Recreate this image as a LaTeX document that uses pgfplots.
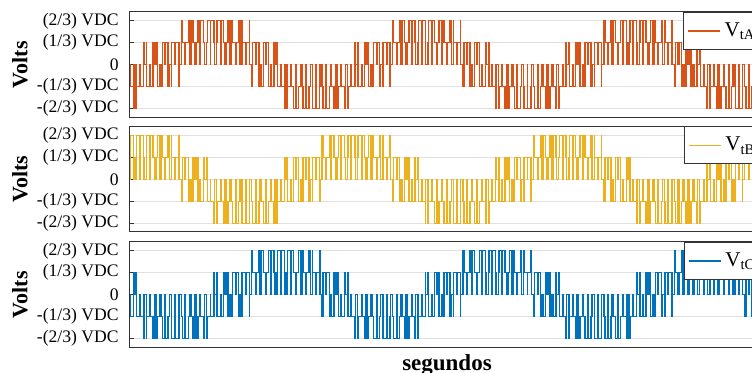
\documentclass[border=0pt]{standalone}
\usepackage{pgfplots}
\pgfplotsset{compat=1.18}
\usepackage{pgfplotstable}
\usepackage{fontspec}
\setmainfont{Liberation Serif}
\definecolor{cA}{HTML}{D95319}
\definecolor{cB}{HTML}{EDB120}
\definecolor{cC}{HTML}{0072BD}
\pgfplotstableread{
t a b c
0 0 0 0
0.6 -1 2 -1
6.5 -2 1 1
7.9 0 0 0
12.1 -2 1 1
13.5 -1 2 -1
19.4 0 0 0
20.5 -1 2 -1
26.8 1 1 -2
27.7 0 0 0
32.3 1 1 -2
33.2 -1 2 -1
39.5 0 0 0
40.9 -1 2 -1
45.5 1 1 -2
48.6 0 0 0
51.4 1 1 -2
54.5 -1 2 -1
59.1 0 0 0
61.6 -1 2 -1
64.1 1 1 -2
69.3 0 0 0
70.7 1 1 -2
75.9 -1 2 -1
78.4 0 0 0
82.6 -1 2 -1
82.9 1 1 -2
89.5 0 0 0
90.5 1 1 -2
97.1 -1 2 -1
97.4 0 0 0
101.8 2 -1 -1
103.9 1 1 -2
109.3 0 0 0
110.7 1 1 -2
116.1 2 -1 -1
118.2 0 0 0
121 2 -1 -1
125.2 1 1 -2
128.8 0 0 0
131.2 1 1 -2
134.8 2 -1 -1
139 0 0 0
140.6 2 -1 -1
146.5 1 1 -2
147.9 0 0 0
152.1 1 1 -2
153.5 2 -1 -1
159.4 0 0 0
160.5 2 -1 -1
166.8 1 -2 1
167.7 0 0 0
172.3 1 -2 1
173.2 2 -1 -1
179.5 0 0 0
180.9 2 -1 -1
185.5 1 -2 1
188.6 0 0 0
191.4 1 -2 1
194.5 2 -1 -1
199.1 0 0 0
201.6 2 -1 -1
204.1 1 -2 1
209.3 0 0 0
210.7 1 -2 1
215.9 2 -1 -1
218.4 0 0 0
222.6 2 -1 -1
222.9 1 -2 1
229.5 0 0 0
230.5 1 -2 1
237.1 2 -1 -1
237.4 0 0 0
241.8 -1 -1 2
243.9 1 -2 1
249.3 0 0 0
250.7 1 -2 1
256.1 -1 -1 2
258.2 0 0 0
261 -1 -1 2
265.2 1 -2 1
268.8 0 0 0
271.2 1 -2 1
274.8 -1 -1 2
279 0 0 0
280.6 -1 -1 2
286.5 1 -2 1
287.9 0 0 0
292.1 1 -2 1
293.5 -1 -1 2
299.4 0 0 0
300.5 -1 -1 2
306.8 -2 1 1
307.7 0 0 0
312.3 -2 1 1
313.2 -1 -1 2
319.5 0 0 0
320.9 -1 -1 2
325.5 -2 1 1
328.6 0 0 0
331.4 -2 1 1
334.5 -1 -1 2
339.1 0 0 0
341.6 -1 -1 2
344.1 -2 1 1
349.3 0 0 0
350.7 -2 1 1
355.9 -1 -1 2
358.4 0 0 0
362.6 -1 -1 2
362.9 -2 1 1
369.5 0 0 0
370.5 -2 1 1
377.1 -1 -1 2
377.4 0 0 0
381.8 -1 2 -1
383.9 -2 1 1
389.3 0 0 0
390.7 -2 1 1
396.1 -1 2 -1
398.2 0 0 0
401 -1 2 -1
405.2 -2 1 1
408.8 0 0 0
411.2 -2 1 1
414.8 -1 2 -1
419 0 0 0
420.6 -1 2 -1
426.5 -2 1 1
427.9 0 0 0
432.1 -2 1 1
433.5 -1 2 -1
439.4 0 0 0
440.5 -1 2 -1
446.8 1 1 -2
447.7 0 0 0
452.3 1 1 -2
453.2 -1 2 -1
459.5 0 0 0
460.9 -1 2 -1
465.5 1 1 -2
468.6 0 0 0
471.4 1 1 -2
474.5 -1 2 -1
479.1 0 0 0
481.6 -1 2 -1
484.1 1 1 -2
489.3 0 0 0
490.7 1 1 -2
495.9 -1 2 -1
498.4 0 0 0
502.6 -1 2 -1
502.9 1 1 -2
509.5 0 0 0
510.5 1 1 -2
517.1 -1 2 -1
517.4 0 0 0
521.8 2 -1 -1
523.9 1 1 -2
529.3 0 0 0
530.7 1 1 -2
536.1 2 -1 -1
538.2 0 0 0
541 2 -1 -1
545.2 1 1 -2
548.8 0 0 0
551.2 1 1 -2
554.8 2 -1 -1
559 0 0 0
560.6 2 -1 -1
566.5 1 1 -2
567.9 0 0 0
572.1 1 1 -2
573.5 2 -1 -1
579.4 0 0 0
580.5 2 -1 -1
586.8 1 -2 1
587.7 0 0 0
592.3 1 -2 1
593.2 2 -1 -1
599.5 0 0 0
600.9 2 -1 -1
605.5 1 -2 1
608.6 0 0 0
611.4 1 -2 1
614.5 2 -1 -1
619.1 0 0 0
621.6 2 -1 -1
624.1 1 -2 1
629.3 0 0 0
630.7 1 -2 1
635.9 2 -1 -1
638.4 0 0 0
642.6 2 -1 -1
642.9 1 -2 1
649.5 0 0 0
650.5 1 -2 1
657.1 2 -1 -1
657.4 0 0 0
661.8 -1 -1 2
663.9 1 -2 1
669.3 0 0 0
670.7 1 -2 1
676.1 -1 -1 2
678.2 0 0 0
681 -1 -1 2
685.2 1 -2 1
688.8 0 0 0
691.2 1 -2 1
694.8 -1 -1 2
699 0 0 0
700.6 -1 -1 2
706.5 1 -2 1
707.9 0 0 0
712.1 1 -2 1
713.5 -1 -1 2
719.4 0 0 0
720.5 -1 -1 2
726.8 -2 1 1
727.7 0 0 0
732.3 -2 1 1
733.2 -1 -1 2
739.5 0 0 0
740.9 -1 -1 2
745.5 -2 1 1
748.6 0 0 0
751.4 -2 1 1
754.5 -1 -1 2
759.1 0 0 0
761.6 -1 -1 2
764.1 -2 1 1
769.3 0 0 0
770.7 -2 1 1
775.9 -1 -1 2
778.4 0 0 0
782.6 -1 -1 2
782.9 -2 1 1
789.5 0 0 0
790.5 -2 1 1
797.1 -1 -1 2
797.4 0 0 0
801.8 -1 2 -1
803.9 -2 1 1
809.3 0 0 0
810.7 -2 1 1
816.1 -1 2 -1
818.2 0 0 0
821 -1 2 -1
825.2 -2 1 1
828.8 0 0 0
831.2 -2 1 1
834.8 -1 2 -1
839 0 0 0
840.6 -1 2 -1
846.5 -2 1 1
847.9 0 0 0
852.1 -2 1 1
853.5 -1 2 -1
859.4 0 0 0
860.5 -1 2 -1
866.8 1 1 -2
867.7 0 0 0
872.3 1 1 -2
873.2 -1 2 -1
879.5 0 0 0
880.9 -1 2 -1
885.5 1 1 -2
888.6 0 0 0
891.4 1 1 -2
894.5 -1 2 -1
899.1 0 0 0
901.6 -1 2 -1
904.1 1 1 -2
909.3 0 0 0
910.7 1 1 -2
915.9 -1 2 -1
918.4 0 0 0
922.6 -1 2 -1
922.9 1 1 -2
929.5 0 0 0
930.5 1 1 -2
937.1 -1 2 -1
937.4 0 0 0
941.8 2 -1 -1
943.9 1 1 -2
949.3 0 0 0
950.7 1 1 -2
956.1 2 -1 -1
958.2 0 0 0
961 2 -1 -1
965.2 1 1 -2
968.8 0 0 0
971.2 1 1 -2
974.8 2 -1 -1
979 0 0 0
980.6 2 -1 -1
986.5 1 1 -2
987.9 0 0 0
992.1 1 1 -2
993.5 2 -1 -1
999.4 0 0 0
1000.5 2 -1 -1
1006.8 1 -2 1
1007.7 0 0 0
1012.3 1 -2 1
1013.2 2 -1 -1
1019.5 0 0 0
1020.9 2 -1 -1
1025.5 1 -2 1
1028.6 0 0 0
1031.4 1 -2 1
1034.5 2 -1 -1
1039.1 0 0 0
1041.6 2 -1 -1
1044.1 1 -2 1
1049.3 0 0 0
1050.7 1 -2 1
1055.9 2 -1 -1
1058.4 0 0 0
1062.6 2 -1 -1
1062.9 1 -2 1
1069.5 0 0 0
1070.5 1 -2 1
1077.1 2 -1 -1
1077.4 0 0 0
1081.8 -1 -1 2
1083.9 1 -2 1
1089.3 0 0 0
1090.7 1 -2 1
1096.1 -1 -1 2
1098.2 0 0 0
1101 -1 -1 2
1105.2 1 -2 1
1108.8 0 0 0
1111.2 1 -2 1
1114.8 -1 -1 2
1119 0 0 0
1120.6 -1 -1 2
1126.5 1 -2 1
1127.9 0 0 0
1132.1 1 -2 1
1133.5 -1 -1 2
1139.4 0 0 0
1140.5 -1 -1 2
1146.8 -2 1 1
1147.7 0 0 0
1152.3 -2 1 1
1153.2 -1 -1 2
1159.5 0 0 0
1160.9 -1 -1 2
1165.5 -2 1 1
1168.6 0 0 0
1171.4 -2 1 1
1174.5 -1 -1 2
1179.1 0 0 0
1181.6 -1 -1 2
1184.1 -2 1 1
1189.3 0 0 0
1190.7 -2 1 1
1195.9 -1 -1 2
1198.4 0 0 0
1202.6 -1 -1 2
1202.9 -2 1 1
1209.5 0 0 0
1210.5 -2 1 1
1217.1 -1 -1 2
1217.4 0 0 0
1221.8 -1 2 -1
1223.9 -2 1 1
1229.3 0 0 0
1230.7 -2 1 1
1236.1 -1 2 -1
1238.2 0 0 0
1241 -1 2 -1
1245.2 -2 1 1
1248.8 0 0 0
1251.2 -2 1 1
1254.8 -1 2 -1
1259 0 0 0
1260 0 0 0
}\data

\pgfplotsset{
  panel/.style={
    scale only axis, width=317pt, height=52.75pt,
    anchor=north west,
    xmin=0, xmax=1260, ymin=-2.4, ymax=2.4,
    xtick=\empty,
    ytick={-2,-1,0,1,2},
    yticklabels={-(2/3) VDC,-(1/3) VDC,0,(1/3) VDC,(2/3) VDC},
    tick align=inside, major tick length=2pt,
    ymajorgrids, grid style={black!12, line width=0.5pt},
    axis line style={black!80, line width=0.5pt},
    tick style={black!80, line width=0.5pt},
    yticklabel style={font=\fontsize{8.8}{10}\selectfont, inner sep=0pt, xshift=-5.5pt},
    every axis y label/.style={at={(axis description cs:-0.1735,0.5)}, rotate=90, anchor=center, font=\fontsize{11}{13}\bfseries\selectfont},
    ylabel={Volts},
    legend style={at={(1,1)}, anchor=north east, draw=black!80, line width=0.5pt, fill=white,
      font=\fontsize{10.5}{12}\selectfont, inner xsep=2pt, inner ysep=3pt},
    legend cell align=left,
    legend image code/.code={\draw[#1, line width=0.7pt] (0pt,0pt) -- (16pt,0pt);},
  }
}

\begin{document}
\begin{tikzpicture}
\useasboundingbox (0pt,0pt) rectangle (376pt,-186.5pt);
\begin{axis}[panel, at={(65pt,-6pt)}]
\addplot[const plot, color=cA, line width=0.7pt] table[x=t, y=a] {\data};
\addlegendentry{V\textsubscript{tA}}
\end{axis}
\begin{axis}[panel, at={(65pt,-63.25pt)}]
\addplot[const plot, color=cB, line width=0.7pt] table[x=t, y=b] {\data};
\addlegendentry{V\textsubscript{tB}}
\end{axis}
\begin{axis}[panel, at={(65pt,-121pt)},
  xlabel={segundos},
  every axis x label/.style={at={(axis description cs:0.5,0)}, anchor=north, yshift=-3.5pt, inner sep=0pt, font=\fontsize{11.5}{13}\bfseries\selectfont}]
\addplot[const plot, color=cC, line width=0.7pt] table[x=t, y=c] {\data};
\addlegendentry{V\textsubscript{tC}}
\end{axis}
\end{tikzpicture}
\end{document}
